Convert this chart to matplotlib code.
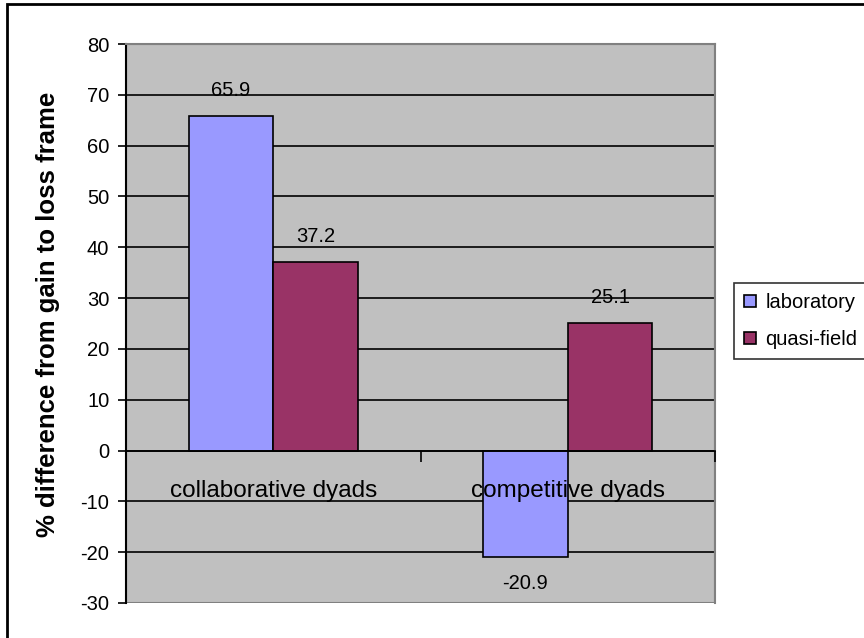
import matplotlib.pyplot as plt
from matplotlib.patches import Rectangle
import numpy as np

plt.rcParams['font.family'] = ['Liberation Sans', 'DejaVu Sans']
plt.rcParams['axes.unicode_minus'] = False

# data
categories = ['collaborative dyads', 'competitive dyads']
series = ['laboratory', 'quasi-field']
laboratory = [65.9, -20.9]
quasi_field = [37.2, 25.1]
colors = ['#9999FF', '#993366']

W, H = 864, 638
fig = plt.figure(figsize=(W / 100, H / 100), dpi=100)
ax = fig.add_axes([126 / W, 1 - 603 / H, (715 - 126) / W, (603 - 44) / H])
ax.set_facecolor('#C0C0C0')

# outer chart border
fig.patches.append(Rectangle((7 / W, -0.05), 1.1, 1 - 4 / H + 0.05,
                             transform=fig.transFigure, fill=False,
                             edgecolor='black', linewidth=2))

x = np.arange(len(categories)) + 0.5
bw = 0.287
vals = [laboratory, quasi_field]
for i, (name, v) in enumerate(zip(series, vals)):
    pos = x + (i - 0.5) * bw
    ax.bar(pos, v, width=bw, color=colors[i], edgecolor='black',
           linewidth=1.2, label=name, zorder=3)
    for xi, yi in zip(pos, v):
        off = 18 if yi >= 0 else -19
        ax.annotate(f'{yi}', (xi, yi), xytext=(0, off), textcoords='offset points',
                    ha='center', va='center', fontsize=14.5, zorder=5)

ax.set_xlim(0, len(categories))
ax.set_ylim(-30, 80)
ax.set_yticks(np.arange(-30, 81, 10))
ax.yaxis.grid(True, color='black', linewidth=1.2)
ax.set_axisbelow(True)
ax.tick_params(axis='y', length=6, width=1.2, labelsize=14.5, pad=6)

# x-axis drawn at zero, labels on top of bars
ax.spines['bottom'].set_position(('data', 0))
ax.spines['bottom'].set_linewidth(1.2)
ax.spines['bottom'].set_zorder(4)
ax.set_xticks([1, 2])
ax.set_xticklabels([])
ax.tick_params(axis='x', which='major', direction='out', length=8, width=1.2)
ax.set_xticks(x, minor=True)
ax.set_xticklabels(categories, minor=True, fontsize=17.5)
ax.tick_params(axis='x', which='minor', length=0, pad=21)
ax.xaxis.set_zorder(4)

ax.spines['left'].set_linewidth(1.5)
for s in ['top', 'right']:
    ax.spines[s].set_color('#808080')
    ax.spines[s].set_linewidth(1.5)
# gray bottom border of plot area
ax.add_patch(Rectangle((0, 0), 1, 1, transform=ax.transAxes, fill=False,
                       edgecolor='#808080', linewidth=1.5, zorder=1))

ax.set_ylabel('% difference from gain to loss frame', fontsize=18.5, fontweight='bold')
ax.yaxis.set_label_coords(-0.112, 0.517)

leg = fig.legend(loc='upper left', bbox_to_anchor=(734 / W, 1 - 283 / H),
                 bbox_transform=fig.transFigure, borderaxespad=0, fancybox=False,
                 edgecolor='black', fontsize=14.5, handlelength=0.6, handleheight=0.6,
                 handletextpad=0.45, borderpad=0.5, labelspacing=0.9)
leg.get_frame().set_linewidth(1.2)

fig.savefig('out.png', dpi=100)
